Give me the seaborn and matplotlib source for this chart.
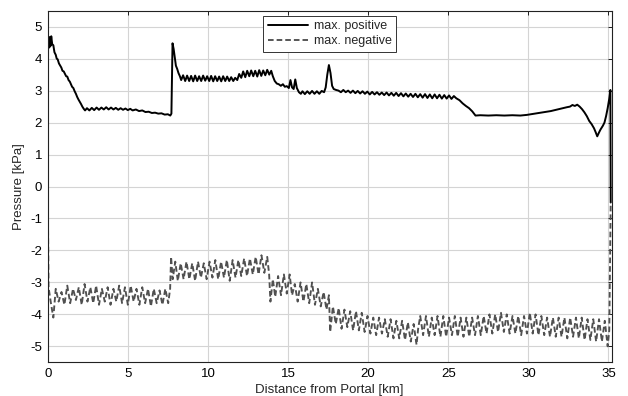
import matplotlib
matplotlib.use("Agg")
import matplotlib.pyplot as plt
import seaborn as sns
import pandas as pd

# ---- data ----
pos_x = [0.0, 0.02, 0.06, 0.1, 0.14, 0.18, 0.22, 0.28, 0.35, 0.42, 0.5, 0.56, 0.62, 0.7, 0.78, 0.85, 0.92, 1.0,
         1.08, 1.15, 1.22, 1.3, 1.38, 1.45, 1.52, 1.6, 1.68, 1.76, 1.84, 1.92, 2.0, 2.08, 2.16, 2.25, 2.33,
         2.45, 2.6, 2.75, 2.9, 3.05, 3.2, 3.35, 3.5, 3.65, 3.8, 3.95, 4.1, 4.25, 4.4, 4.55, 4.7, 4.85, 5.0,
         5.15, 5.3, 5.5, 5.7, 5.9, 6.1, 6.3, 6.5, 6.7, 6.9, 7.1, 7.3, 7.5, 7.65, 7.72,
         7.79, 7.86, 7.93, 8.0, 8.08, 8.16, 8.25, 8.33,
         8.45, 8.58, 8.7, 8.83, 8.95, 9.08, 9.2, 9.33, 9.45, 9.58, 9.7, 9.83, 9.95, 10.08, 10.2, 10.33,
         10.45, 10.58, 10.7, 10.83, 10.95, 11.08, 11.2, 11.33, 11.45, 11.58, 11.7, 11.83,
         11.95, 12.08, 12.2, 12.33, 12.45, 12.58, 12.7, 12.83, 12.95, 13.08, 13.2, 13.33, 13.45, 13.58,
         13.7, 13.83, 13.95,
         14.05, 14.17, 14.3, 14.42, 14.55, 14.68, 14.8, 14.92, 15.05, 15.15, 15.25, 15.35, 15.45, 15.55,
         15.68, 15.8, 15.9, 16.05, 16.2, 16.35, 16.5, 16.65, 16.8, 16.95, 17.1, 17.25, 17.35, 17.45, 17.55,
         17.65, 17.75, 17.85, 18.0, 18.15,
         18.3, 18.45, 18.6, 18.75, 18.9, 19.05, 19.2, 19.35, 19.5, 19.65, 19.8, 19.95, 20.1, 20.25, 20.4,
         20.55, 20.7, 20.85, 21.0, 21.15, 21.3, 21.45, 21.6, 21.75, 21.9, 22.05, 22.2, 22.35, 22.5, 22.65,
         22.8, 22.95, 23.1, 23.25, 23.4, 23.55, 23.7, 23.85, 24.0, 24.15, 24.3, 24.45, 24.6, 24.75, 24.9,
         25.05, 25.2, 25.35, 25.5,
         25.7, 25.9, 26.1, 26.3, 26.5, 26.7, 27.0, 27.5, 28.0, 28.5, 29.0, 29.5, 29.9, 30.4, 30.9, 31.4,
         31.9, 32.4, 32.6, 32.75, 32.9, 33.05, 33.2, 33.35, 33.5, 33.65, 33.8, 33.95, 34.1, 34.2, 34.3,
         34.4, 34.5, 34.65, 34.75, 34.85, 34.95, 35.05, 35.12, 35.14]
pos_y = [0.0, 4.3, 4.65, 4.35, 4.68, 4.4, 4.7, 4.45, 4.42, 4.2, 4.12, 4.0, 3.98, 3.85, 3.78, 3.72, 3.62, 3.6,
         3.52, 3.45, 3.44, 3.33, 3.28, 3.2, 3.12, 3.08, 2.98, 2.9, 2.8, 2.72, 2.65, 2.58, 2.5, 2.43, 2.38,
         2.45, 2.38, 2.46, 2.39, 2.47, 2.4, 2.47, 2.41, 2.48, 2.41, 2.47, 2.41, 2.46, 2.4, 2.45, 2.4, 2.44, 2.39,
         2.43, 2.38, 2.41, 2.36, 2.38, 2.33, 2.34, 2.3, 2.31, 2.28, 2.29, 2.25, 2.26, 2.22, 2.28,
         4.48, 4.3, 4.05, 3.78, 3.68, 3.55, 3.45, 3.33,
         3.48, 3.3, 3.47, 3.3, 3.46, 3.29, 3.47, 3.3, 3.45, 3.3, 3.47, 3.31, 3.45, 3.3, 3.46, 3.29,
         3.45, 3.3, 3.44, 3.29, 3.45, 3.3, 3.44, 3.3, 3.42, 3.3, 3.4, 3.33,
         3.52, 3.4, 3.6, 3.42, 3.62, 3.45, 3.63, 3.45, 3.62, 3.44, 3.64, 3.46, 3.63, 3.48,
         3.65, 3.5, 3.62,
         3.45, 3.3, 3.22, 3.2, 3.15, 3.2, 3.12, 3.14, 3.08, 3.33, 3.1, 3.05, 3.35, 3.08,
         2.95, 2.9, 2.98, 2.89, 2.98, 2.9, 2.99, 2.9, 2.98, 2.9, 2.99, 2.95, 3.1, 3.5, 3.8,
         3.55, 3.15, 3.05, 3.02, 3.0,
         2.95, 3.02, 2.95, 3.0, 2.93, 3.0, 2.92, 2.99, 2.91, 2.98, 2.9, 2.97, 2.88, 2.96, 2.88,
         2.95, 2.87, 2.94, 2.86, 2.94, 2.85, 2.93, 2.84, 2.93, 2.83, 2.92, 2.82, 2.91, 2.81, 2.9,
         2.8, 2.9, 2.79, 2.89, 2.78, 2.89, 2.77, 2.88, 2.76, 2.88, 2.76, 2.87, 2.75, 2.86, 2.75,
         2.85, 2.74, 2.83, 2.76,
         2.7, 2.6, 2.52, 2.45, 2.35, 2.22, 2.23, 2.22, 2.23, 2.22, 2.23, 2.22, 2.24, 2.28, 2.32, 2.36,
         2.42, 2.48, 2.5, 2.55, 2.52, 2.56, 2.5, 2.42, 2.32, 2.2, 2.05, 1.95, 1.82, 1.7, 1.57,
         1.68, 1.78, 1.9, 2.0, 2.2, 2.45, 2.75, 3.02, -0.5]

neg_x = [0.0, 0.05, 0.2, 0.35, 0.5, 0.68, 0.86, 1.04, 1.22, 1.4, 1.58, 1.76, 1.94, 2.12, 2.3, 2.48, 2.66,
         2.84, 3.02, 3.2, 3.38, 3.56, 3.74, 3.92, 4.1, 4.28, 4.46, 4.64, 4.82, 5.0, 5.18, 5.36, 5.54, 5.72,
         5.9, 6.08, 6.26, 6.44, 6.62, 6.8, 6.98, 7.16, 7.34, 7.52, 7.64,
         7.7, 7.8, 7.96, 8.12, 8.3, 8.48, 8.66, 8.84, 9.02, 9.2, 9.38, 9.56, 9.74, 9.92, 10.1, 10.28,
         10.46, 10.64, 10.82, 11.0, 11.18, 11.36, 11.54, 11.72, 11.9, 12.08, 12.26, 12.44, 12.62, 12.8,
         12.98, 13.16, 13.34, 13.52, 13.7, 13.82,
         13.9, 14.05, 14.2, 14.38, 14.56, 14.74, 14.92, 15.1, 15.25,
         15.42, 15.6, 15.78, 15.96, 16.14, 16.32, 16.5, 16.68, 16.86, 17.04, 17.22, 17.4, 17.55, 17.63,
         17.8, 17.98, 18.16, 18.34, 18.52, 18.7, 18.88, 19.06, 19.24, 19.42, 19.6, 19.78, 19.96, 20.14,
         20.32, 20.5, 20.68, 20.86, 21.04, 21.22, 21.4, 21.58, 21.76, 21.94, 22.12, 22.3, 22.48, 22.66,
         22.84, 23.02, 23.12,
         23.25, 23.43, 23.61, 23.79, 23.97, 24.15, 24.33, 24.51, 24.69, 24.87, 25.05, 25.23, 25.41, 25.59,
         25.77, 25.95, 26.13, 26.31, 26.49, 26.67, 26.85, 27.03, 27.21, 27.39, 27.57, 27.75, 27.93, 28.11,
         28.29, 28.47, 28.65, 28.83, 29.01, 29.19, 29.37, 29.55, 29.73, 29.91, 30.09, 30.27, 30.45, 30.63,
         30.81, 30.99, 31.17, 31.35, 31.53, 31.71, 31.89, 32.07, 32.25, 32.43, 32.61, 32.79, 32.97, 33.15,
         33.33, 33.51, 33.69, 33.87, 34.05, 34.23, 34.41, 34.59, 34.77, 34.95, 35.05, 35.14]
neg_y = [0.0, -3.15, -3.65, -4.1, -3.2, -3.6, -3.3, -3.7, -3.1, -3.65, -3.2, -3.55, -3.15, -3.7, -3.05, -3.6, -3.15,
         -3.65, -3.1, -3.7, -3.2, -3.6, -3.15, -3.7, -3.2, -3.6, -3.1, -3.65, -3.15, -3.7, -3.1, -3.6, -3.2, -3.7,
         -3.15, -3.65, -3.2, -3.75, -3.2, -3.65, -3.25, -3.7, -3.2, -3.65, -3.2,
         -2.2, -2.9, -2.35, -2.95, -2.4, -2.9, -2.35, -2.9, -2.4, -2.95, -2.35, -2.85, -2.4, -2.9, -2.35, -2.85,
         -2.3, -2.9, -2.35, -2.85, -2.3, -2.95, -2.3, -2.85, -2.3, -2.8, -2.25, -2.8, -2.25, -2.75,
         -2.2, -2.75, -2.15, -2.7, -2.2, -2.75,
         -3.6, -2.9, -3.45, -2.8, -3.4, -2.75, -3.35, -2.75, -3.4,
         -3.05, -3.6, -3.0, -3.6, -3.05, -3.65, -3.0, -3.7, -3.2, -3.75, -3.3, -3.85, -3.4, -4.55,
         -3.75, -4.3, -3.8, -4.45, -3.85, -4.4, -3.9, -4.5, -3.9, -4.5, -3.95, -4.55, -4.05, -4.6,
         -4.1, -4.65, -4.1, -4.6, -4.15, -4.7, -4.15, -4.75, -4.2, -4.75, -4.2, -4.8, -4.25, -4.85,
         -4.3, -4.95, -4.45,
         -4.05, -4.65, -4.05, -4.7, -4.1, -4.65, -4.05, -4.7, -4.05, -4.7, -4.1, -4.65, -4.05, -4.7,
         -4.1, -4.7, -4.1, -4.7, -4.1, -4.65, -4.05, -4.65, -4.05, -4.6, -4.0, -4.6, -4.0, -4.55,
         -3.95, -4.55, -4.0, -4.6, -4.05, -4.6, -4.05, -4.65, -4.05, -4.6, -3.95, -4.6, -4.0, -4.65,
         -4.05, -4.65, -4.1, -4.7, -4.1, -4.7, -4.1, -4.7, -4.1, -4.75, -4.1, -4.7, -4.1, -4.75,
         -4.1, -4.8, -4.15, -4.8, -4.15, -4.85, -4.15, -4.85, -4.2, -5.0, -4.5, -0.5]

x_ticks = [0, 5, 10, 15, 20, 25, 30, 35]
y_ticks = [-5, -4, -3, -2, -1, 0, 1, 2, 3, 4, 5]

# ---- plot ----
sns.set_style("white")
plt.rcParams["font.family"] = ["Liberation Sans", "DejaVu Sans"]

fig = plt.figure(figsize=(6.28, 3.96), dpi=100)
ax = fig.add_axes([0.076, 0.085, 0.898, 0.888])

df_pos = pd.DataFrame({"x": pos_x, "y": pos_y})
df_neg = pd.DataFrame({"x": neg_x, "y": neg_y})

sns.lineplot(data=df_pos, x="x", y="y", ax=ax, color="black", linewidth=1.4,
             estimator=None, sort=False, label="max. positive")
sns.lineplot(data=df_neg, x="x", y="y", ax=ax, color="#505050", linewidth=1.35,
             estimator=None, sort=False, label="max. negative")
ax.lines[1].set_dashes([3.0, 1.6])

ax.set_xlim(0, 35.2)
ax.set_ylim(-5.5, 5.5)
ax.set_xticks(x_ticks)
ax.set_yticks(y_ticks)
ax.set_xticklabels([str(t) for t in x_ticks])
ax.set_yticklabels([str(t) for t in y_ticks])
ax.grid(True, color="#d4d4d4", linewidth=0.8, linestyle="-")
ax.set_axisbelow(True)
ax.tick_params(axis="both", direction="in", length=3, width=0.6, labelsize=9.5,
               top=True, right=True, colors="black", pad=4)
for s in ax.spines.values():
    s.set_color("#222222")
    s.set_linewidth(0.8)
ax.set_xlabel("Distance from Portal [km]", fontsize=9.5, labelpad=3)
ax.set_ylabel("Pressure [kPa]", fontsize=9.5, labelpad=4)

leg = ax.legend(loc="upper center", bbox_to_anchor=(0.5, 0.985), fontsize=9,
                frameon=True, fancybox=False, framealpha=1, edgecolor="#333333",
                handlelength=3.2, borderpad=0.35, labelspacing=0.25, handletextpad=0.5,
                borderaxespad=0)
leg.get_frame().set_linewidth(0.7)

fig.savefig("out.png", dpi=100)
